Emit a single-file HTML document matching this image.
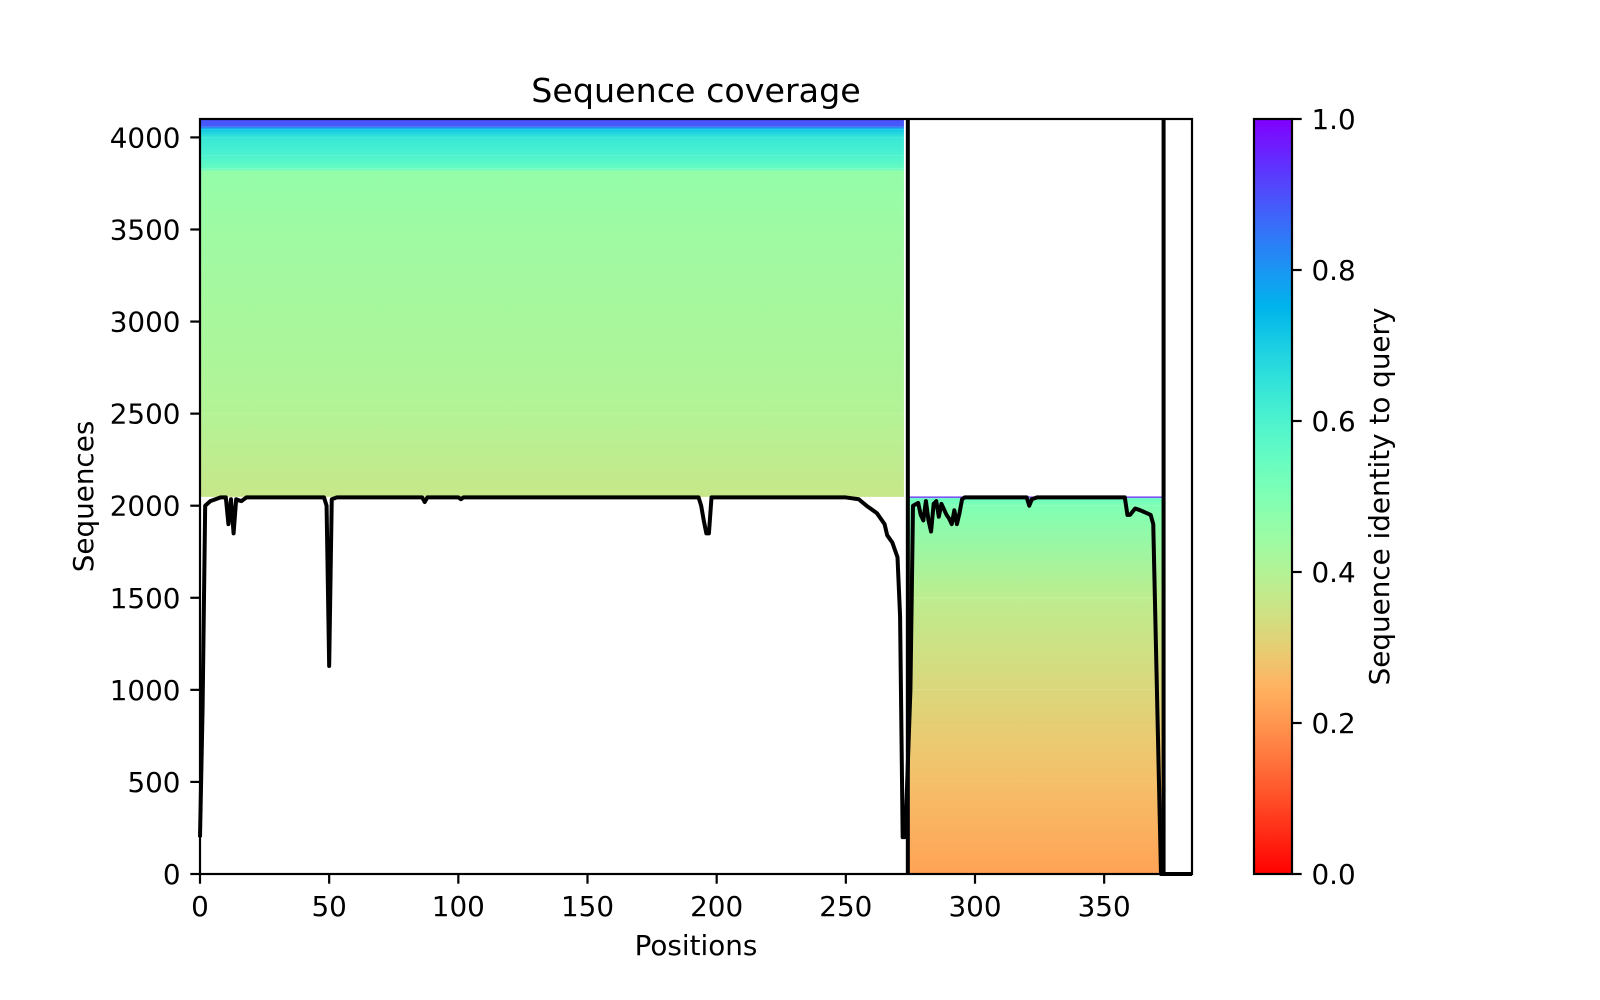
<!DOCTYPE html>
<html><head><meta charset="utf-8">
<style>
html,body{margin:0;padding:0;background:#fff;}
svg{display:block;font-family:"DejaVu Sans","Liberation Sans",sans-serif;}
</style></head>
<body>
<svg id="fig" width="1600" height="1000" viewBox="0 0 1600 1000" xmlns="http://www.w3.org/2000/svg">
<defs id="defs"></defs>
<g id="blocks"></g>
<g id="cov"></g>
<g id="axes"></g>
<g id="cbar"></g>
</svg>
<script>
// ---- data ----
const xTicks = [0, 50, 100, 150, 200, 250, 300, 350];
const yTicks = [0, 500, 1000, 1500, 2000, 2500, 3000, 3500, 4000];
const cbTicks = [0.0, 0.2, 0.4, 0.6, 0.8, 1.0];
const chainBounds = [274, 373];
// left block (chain A) identity profile by sequence row
const leftX = [0, 272.5];
const leftSeq = [2048, 2500, 3000, 3500, 3815, 3830, 3900, 4000, 4045, 4060, 4100];
const leftId  = [0.36, 0.40, 0.42, 0.44, 0.46, 0.55, 0.60, 0.64, 0.72, 0.88, 0.90];
// right block (chain B)
const rightX = [274.6, 372.6];
const rightSeq = [0, 500, 1000, 1500, 2000, 2040, 2045, 2050];
const rightId  = [0.22, 0.27, 0.32, 0.38, 0.50, 0.54, 0.95, 0.95];
// coverage line
const covPos = [0,1,2,4,8,10,11,12,13,14,16,18,48,49,50,51,53,86,87,88,100,101,102,193,194,195,196,197,198,250,255,258,262,265,266,268,270,271,272,273,275,276,278,279,280,281,282,283,284,285,286,287,289,290,291,292,293,294,295,296,320,321,322,324,358,359,360,362,364,368,369,372,373,384];
const covVal = [200,900,2000,2025,2045,2045,1900,2035,1850,2035,2025,2045,2045,2000,1130,2035,2045,2045,2020,2045,2045,2035,2045,2045,2000,1920,1850,1850,2045,2045,2035,2000,1960,1900,1840,1800,1720,1400,200,200,1000,2000,2015,1950,1920,2025,1920,1860,2010,2025,1940,2010,1950,1930,1900,1975,1900,1960,2035,2045,2045,2000,2035,2045,2045,1950,1950,1985,1975,1950,1900,0,0,0];

// ---- axes ----
const X0 = 200, X1 = 1192, Y0 = 874, Y1 = 119;
const XMAX = 384, YMAX = 4100;
const sx = v => X0 + v / XMAX * (X1 - X0);
const sy = v => Y0 - v / YMAX * (Y0 - Y1);
const NS = "http://www.w3.org/2000/svg";
function mk(tag, attrs, parent){const e=document.createElementNS(NS,tag);for(const k in attrs)e.setAttribute(k,attrs[k]);parent.appendChild(e);return e;}

function rainbowR(v){
  const t = 1 - v;
  const r = Math.min(1, Math.abs(2*t - 0.5));
  const g = Math.sin(Math.PI*t);
  const b = Math.cos(Math.PI*t/2);
  const h = x => Math.round(Math.max(0,Math.min(1,x))*255).toString(16).padStart(2,'0');
  return '#'+h(r)+h(g)+h(b);
}

const defs = document.getElementById('defs');
const blocks = document.getElementById('blocks');
let gid = 0;
function drawBlock(xr, seqs, ids, name){
  for(let i=0;i<seqs.length-1;i++){
    const id = 'g'+(gid++);
    const lg = mk('linearGradient',{id:id,x1:0,y1:1,x2:0,y2:0},defs);
    mk('stop',{offset:0,'stop-color':rainbowR(ids[i])},lg);
    mk('stop',{offset:1,'stop-color':rainbowR(ids[i+1])},lg);
    const yTop = sy(seqs[i+1]), yBot = sy(seqs[i]);
    const r = mk('rect',{x:sx(xr[0]),y:yTop,width:sx(xr[1])-sx(xr[0]),height:Math.max(0.5,yBot-yTop),fill:'url(#'+id+')'},blocks);
    
    
  }
}
drawBlock(leftX, leftSeq, leftId, 'chain-a');
drawBlock(rightX, rightSeq, rightId, 'chain-b');

// coverage line
const cov = document.getElementById('cov');
let d = covPos.map((p,i)=>(i?'L':'M')+sx(p).toFixed(2)+','+sy(covVal[i]).toFixed(2)).join('');
const pl = mk('path',{d:d,fill:'none',stroke:'#000','stroke-width':4,'stroke-linejoin':'round'},cov);



// chain boundaries
chainBounds.forEach(b=>{
  const l = mk('line',{x1:sx(b),x2:sx(b),y1:Y1,y2:Y0,stroke:'#000','stroke-width':4},cov);
  
  
});

const axes = document.getElementById('axes');
const frame = mk('rect',{x:X0,y:Y1,width:X1-X0,height:Y0-Y1,fill:'none',stroke:'#000','stroke-width':2.2},axes);


xTicks.forEach(v=>{
  const x = sx(v);
  const t = mk('line',{x1:x,x2:x,y1:Y0,y2:Y0+9.7,stroke:'#000','stroke-width':2.2},axes);
  
  
  const tx = mk('text',{x:x,y:Y0+42,'text-anchor':'middle','font-size':27.8,fill:'#000'},axes);
  tx.textContent = v;
  
  
});
yTicks.forEach(v=>{
  const y = sy(v);
  const t = mk('line',{x1:X0-9.7,x2:X0,y1:y,y2:y,stroke:'#000','stroke-width':2.2},axes);
  
  
  const tx = mk('text',{x:X0-19.5,y:y+10,'text-anchor':'end','font-size':27.8,fill:'#000'},axes);
  tx.textContent = v;
  
  
});
let tt = mk('text',{x:(X0+X1)/2,y:102,'text-anchor':'middle','font-size':33.3,fill:'#000'},axes);
tt.textContent='Sequence coverage';


let xl = mk('text',{x:(X0+X1)/2,y:955,'text-anchor':'middle','font-size':27.8,fill:'#000'},axes);
xl.textContent='Positions';


let yl = mk('text',{x:0,y:0,'text-anchor':'middle','font-size':27.8,fill:'#000',transform:'translate(93,'+((Y0+Y1)/2)+') rotate(-90)'},axes);
yl.textContent='Sequences';



// colorbar
const cb = document.getElementById('cbar');
const CX0 = 1254, CX1 = 1292;
const cg = mk('linearGradient',{id:'cbg',x1:0,y1:1,x2:0,y2:0},defs);
for(let i=0;i<=20;i++){ mk('stop',{offset:i/20,'stop-color':rainbowR(i/20)},cg); }
const cr = mk('rect',{x:CX0,y:Y1,width:CX1-CX0,height:Y0-Y1,fill:'url(#cbg)',stroke:'#000','stroke-width':2.2},cb);


const cy = v => Y0 - v*(Y0-Y1);
cbTicks.forEach(v=>{
  const y = cy(v);
  const t = mk('line',{x1:CX1,x2:CX1+9.7,y1:y,y2:y,stroke:'#000','stroke-width':2.2},cb);
  
  
  const tx = mk('text',{x:CX1+19.5,y:y+10,'font-size':27.8,fill:'#000'},cb);
  tx.textContent = v.toFixed(1);
  
  
});
let cl = mk('text',{x:0,y:0,'text-anchor':'middle','font-size':27.8,fill:'#000',transform:'translate(1389,'+((Y0+Y1)/2)+') rotate(-90)'},cb);
cl.textContent='Sequence identity to query';


</script>
</body></html>
